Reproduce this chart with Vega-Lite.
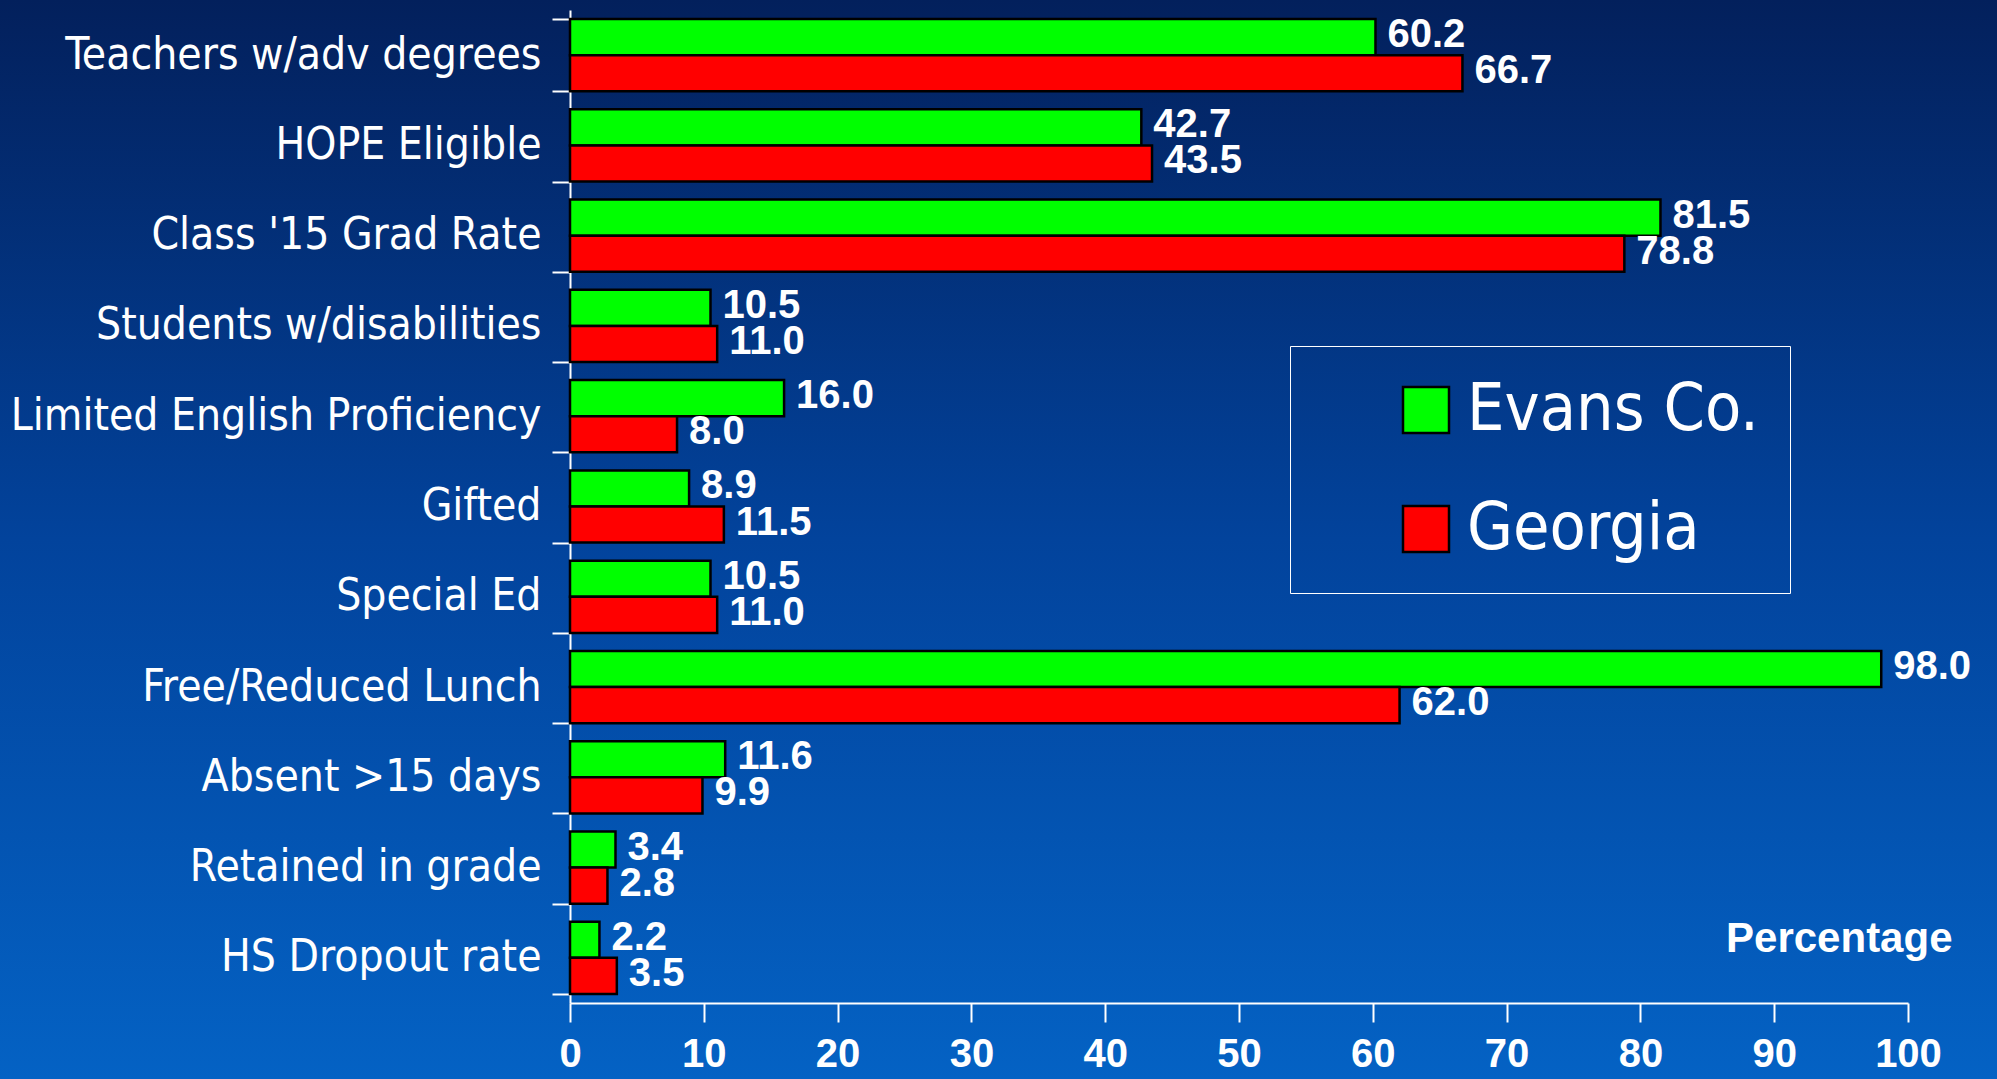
{
  "$schema": "https://vega.github.io/schema/vega-lite/v6.json",
  "width": 1997,
  "height": 1079,
  "autosize": {"type": "none"},
  "padding": 0,
  "background": "#03419A",
  "view": {
    "stroke": null,
    "fill": {
      "gradient": "linear",
      "x1": 0, "y1": 0, "x2": 0, "y2": 1,
      "stops": [
        {"offset": 0, "color": "#03205C"},
        {"offset": 0.5, "color": "#02439C"},
        {"offset": 1, "color": "#0462C4"}
      ]
    }
  },
  "data": {
    "values": [
      {"category": "Teachers w/adv degrees", "series": "Evans Co.", "value": 60.2},
      {"category": "Teachers w/adv degrees", "series": "Georgia", "value": 66.7},
      {"category": "HOPE Eligible", "series": "Evans Co.", "value": 42.7},
      {"category": "HOPE Eligible", "series": "Georgia", "value": 43.5},
      {"category": "Class '15 Grad Rate", "series": "Evans Co.", "value": 81.5},
      {"category": "Class '15 Grad Rate", "series": "Georgia", "value": 78.8},
      {"category": "Students w/disabilities", "series": "Evans Co.", "value": 10.5},
      {"category": "Students w/disabilities", "series": "Georgia", "value": 11.0},
      {"category": "Limited English Proficiency", "series": "Evans Co.", "value": 16.0},
      {"category": "Limited English Proficiency", "series": "Georgia", "value": 8.0},
      {"category": "Gifted", "series": "Evans Co.", "value": 8.9},
      {"category": "Gifted", "series": "Georgia", "value": 11.5},
      {"category": "Special Ed", "series": "Evans Co.", "value": 10.5},
      {"category": "Special Ed", "series": "Georgia", "value": 11.0},
      {"category": "Free/Reduced Lunch", "series": "Evans Co.", "value": 98.0},
      {"category": "Free/Reduced Lunch", "series": "Georgia", "value": 62.0},
      {"category": "Absent >15 days", "series": "Evans Co.", "value": 11.6},
      {"category": "Absent >15 days", "series": "Georgia", "value": 9.9},
      {"category": "Retained in grade", "series": "Evans Co.", "value": 3.4},
      {"category": "Retained in grade", "series": "Georgia", "value": 2.8},
      {"category": "HS Dropout rate", "series": "Evans Co.", "value": 2.2},
      {"category": "HS Dropout rate", "series": "Georgia", "value": 3.5}
    ]
  },
  "encoding": {
    "y": {
      "field": "category",
      "type": "nominal",
      "sort": null,
      "scale": {"range": [10, 1003], "paddingInner": 0.2, "paddingOuter": 0.1},
      "axis": {
        "orient": "left",
        "offset": -570,
        "title": null,
        "tickBand": "extent",
        "tickSize": 18,
        "labelPadding": 11,
        "labelFont": "DejaVu Sans Condensed, Liberation Sans, sans-serif",
        "labelFontSize": 44,
        "labelColor": "white",
        "labelLimit": 0
      }
    },
    "yOffset": {
      "field": "series",
      "type": "nominal",
      "sort": ["Evans Co.", "Georgia"],
      "scale": {"paddingInner": 0, "paddingOuter": 0}
    },
    "x": {
      "field": "value",
      "type": "quantitative",
      "scale": {"domain": [0, 100], "range": [570, 1908], "nice": false},
      "axis": {
        "orient": "bottom",
        "offset": -76,
        "values": [0, 10, 20, 30, 40, 50, 60, 70, 80, 90, 100],
        "grid": false,
        "tickSize": 19,
        "labelPadding": 12,
        "labelFont": "Liberation Sans, Arial, sans-serif",
        "labelFontWeight": "bold",
        "labelFontSize": 40,
        "labelColor": "white",
        "labelFlush": false,
        "labelOverlap": false,
        "title": "Percentage",
        "titleX": 1952,
        "titleY": -52,
        "titleAlign": "right",
        "titleBaseline": "alphabetic",
        "titleFont": "Liberation Sans, Arial, sans-serif",
        "titleFontWeight": "bold",
        "titleFontSize": 42,
        "titleColor": "white"
      }
    }
  },
  "layer": [
    {
      "mark": {"type": "bar", "stroke": "black", "strokeWidth": 2.5, "opacity": 1},
      "encoding": {
        "color": {
          "field": "series",
          "type": "nominal",
          "scale": {"domain": ["Evans Co.", "Georgia"], "range": ["#00FF00", "#FF0000"]},
          "legend": {
            "title": null,
            "orient": "none",
            "legendX": 1290,
            "legendY": 346,
            "padding": 31,
            "strokeColor": "white",
            "symbolType": "square",
            "symbolSize": 2116,
            "symbolStrokeColor": "black",
            "symbolStrokeWidth": 2.5,
            "symbolOpacity": 1,
            "symbolOffset": 72,
            "labelOffset": 8,
            "rowPadding": 53,
            "labelFont": "DejaVu Sans Condensed, Liberation Sans, sans-serif",
            "labelFontSize": 66,
            "labelColor": "white",
            "labelLimit": 0
          }
        }
      }
    },
    {
      "mark": {
        "type": "text",
        "align": "left",
        "baseline": "middle",
        "dx": 12,
        "dy": -2,
        "font": "Liberation Sans, Arial, sans-serif",
        "fontWeight": "bold",
        "fontSize": 40,
        "color": "white"
      },
      "encoding": {
        "text": {"field": "value", "type": "quantitative", "format": ".1f"}
      }
    }
  ],
  "config": {
    "axis": {
      "domainColor": "white",
      "domainWidth": 2,
      "tickColor": "white",
      "tickWidth": 2
    }
  }
}
